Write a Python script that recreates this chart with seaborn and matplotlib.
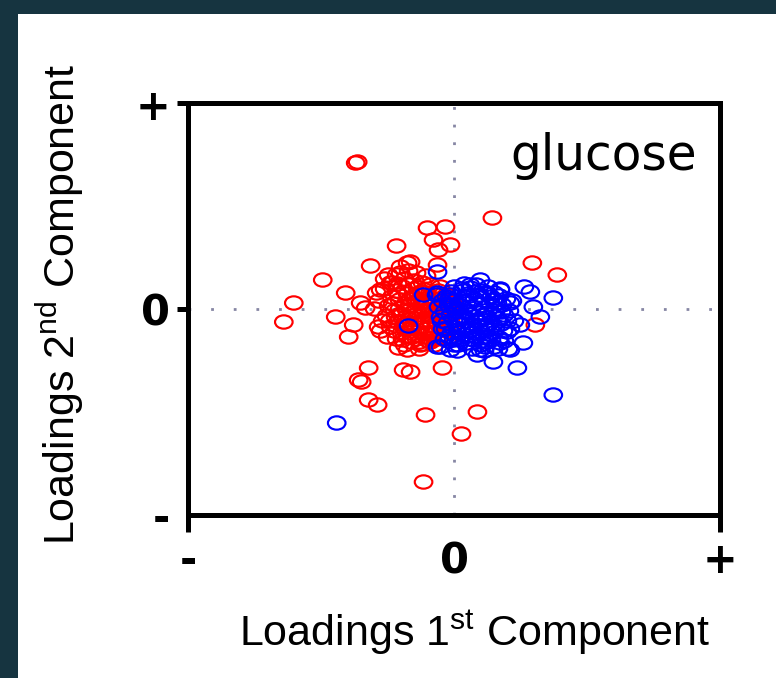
import numpy as np
import pandas as pd
import matplotlib
matplotlib.use("Agg")
import matplotlib.pyplot as plt
import seaborn as sns
from matplotlib.path import Path
from matplotlib.patches import Rectangle

# ---- data: loadings (arbitrary units, axis spans -/+ ) ----
red_outer = [(-97, 147), (-99, 146), (38, 91), (-27, 81), (-9, 82), (-21, 69), (-4, 64),
             (-16, 59), (-58, 63), (-44, 47), (-17, 44), (-47, 46), (-84, 43), (78, 46),
             (103, 34), (-132, 29), (-66, 34), (-54, 36), (-64, 26), (-74, 19), (-161, 6),
             (-171, -13), (-109, 16), (-94, 6), (-89, 1), (-119, -8), (-101, -16),
             (-106, -28), (-76, -18), (-56, -39), (-47, -41), (-34, -36), (-24, -33),
             (-86, -59), (-51, -61), (-44, -63), (-12, -59), (-96, -71), (-93, -73),
             (-86, -91), (-77, -96), (-29, -106), (23, -103), (7, -125), (-31, -173),
             (81, -16)]
red_core = [(-58, 18), (-52, 22), (-47, 15), (-41, 20), (-36, 14), (-30, 19), (-25, 12),
            (-20, 16), (-15, 10), (-55, 9), (-49, 5), (-44, 10), (-38, 6), (-33, 2),
            (-27, 7), (-22, 3), (-17, -1), (-12, 4), (-60, -2), (-54, -5), (-48, -1),
            (-42, -4), (-37, -8), (-31, -3), (-26, -6), (-21, -10), (-16, -5), (-10, -8),
            (-57, -13), (-51, -16), (-45, -11), (-40, -15), (-34, -19), (-29, -13),
            (-23, -17), (-18, -14), (-13, -20), (-53, -24), (-47, -27), (-42, -22),
            (-36, -26), (-30, -24), (-25, -29), (-19, -23), (-44, -33), (-38, -30),
            (-32, -35), (-26, -32), (-63, 12), (-66, 3), (-68, -7), (-64, -18), (-70, 20),
            (-62, 26), (-50, 30), (-40, 28), (-32, 26), (-24, 24), (-14, 22), (-8, 14),
            (-6, 2), (-4, -12), (-8, -22), (-12, -30), (-20, -36), (-35, -40), (-50, -36),
            (-58, -30), (-72, -12), (-76, 8), (-46, 38), (-38, 36), (-28, 33), (-58, 34),
            (-2, 6), (0, -4), (-3, -18), (-39, -1), (-29, -1), (-45, 3), (-35, 9),
            (-24, -1), (-33, -12), (-48, -8), (-55, 0), (-43, -19), (-28, 16), (-19, 6),
            (-15, -28), (-60, -22), (-67, -28), (-74, -22), (-80, 0), (-78, 16), (-70, 30),
            (-54, 42), (-56, 14), (-50, -20), (-45, 24), (-39, -10), (-33, 17), (-27, -20),
            (-22, 10), (-18, -30), (-11, -14), (-9, 0), (-62, 5), (-59, -8), (-52, -31),
            (-43, -28), (-37, 21), (-31, 8), (-25, -12), (-20, -3), (-14, -2), (-7, -30),
            (-65, -12), (-57, 25), (-48, -14), (-41, 12), (-35, -33), (-23, -25),
            (-16, 18), (-10, -18), (-5, 8), (-3, -5)]
blue_outer = [(-17, 37), (26, 29), (16, 24), (33, 16), (46, 19), (76, 17), (99, 11),
              (56, 6), (79, 2), (86, -8), (66, -16), (53, -23), (69, -34), (56, -41),
              (26, -41), (-4, -41), (-17, -38), (-1, -31), (63, -59), (39, -53), (23, -46),
              (-14, -38), (99, -86), (-118, -114), (-46, -17), (-31, 14), (-17, 16),
              (-6, 9), (70, 22)]
blue_core = [(-8, 12), (-3, 17), (3, 12), (9, 18), (15, 13), (21, 17), (27, 11), (33, 15),
             (39, 9), (45, 13), (-6, 4), (0, 8), (6, 3), (12, 7), (18, 2), (24, 6), (30, 1),
             (36, 5), (42, 0), (48, 4), (-10, -3), (-4, -6), (2, -2), (8, -7), (14, -3),
             (20, -8), (26, -4), (32, -9), (38, -5), (44, -10), (50, -6), (-7, -14),
             (-1, -11), (5, -16), (11, -12), (17, -17), (23, -13), (29, -18), (35, -14),
             (41, -19), (47, -15), (-3, -24), (3, -21), (9, -26), (15, -22), (21, -27),
             (27, -23), (33, -28), (39, -24), (45, -29), (5, -31), (12, -34), (19, -31),
             (26, -36), (33, -33), (40, -38), (-12, 8), (-14, -8), (-12, -20), (-10, -30),
             (0, -36), (52, 10), (55, -2), (56, -20), (50, -32), (22, 24), (10, 25),
             (34, 22), (46, 20), (0, 22), (4, 0), (16, -6), (28, -10), (12, -20), (24, -18),
             (36, -20), (6, -10), (20, 10), (30, -28), (-5, -28), (14, 15), (40, 16),
             (58, 8), (60, -12), (18, -40), (30, -42), (-16, 2), (-18, 14), (44, -40),
             (54, -40), (-4, 14), (2, -28), (8, 20), (13, -2), (19, -24), (25, 14),
             (31, -5), (37, -31), (43, 6), (49, -22), (-9, -20), (-2, 4), (4, -36),
             (10, -8), (16, 21), (22, -12), (28, 18), (34, -16), (40, -2), (46, -34),
             (-6, -32), (7, 8), (17, -30), (27, -32), (37, 12), (47, -3), (53, -12),
             (-13, -12), (3, -42), (31, -38)]

x_ticks = [-267, 0, 266]
x_tick_labels = ["-", "0", "+"]
y_ticks = [-206, 0, 206]
y_tick_labels = ["-", "0", "+"]
panel_label = "glucose"
x_label = "Loadings 1$\\mathregular{^{st}}$ Component"
y_label = "Loadings 2$\\mathregular{^{nd}}$ Component"


def to_frame(pairs, group):
    return pd.DataFrame({"pc1": [p[0] for p in pairs],
                         "pc2": [p[1] for p in pairs],
                         "group": group})


red = pd.concat([to_frame(red_outer, "red"), to_frame(red_core, "red")], ignore_index=True)
blue = pd.concat([to_frame(blue_outer, "blue"), to_frame(blue_core, "blue")], ignore_index=True)

sns.set_theme(style="ticks")
plt.rcParams["font.family"] = ["Liberation Sans", "DejaVu Sans"]
plt.rcParams["mathtext.default"] = "regular"

W, H = 776, 678
fig = plt.figure(figsize=(W / 100, H / 100), dpi=100)
fig.patch.set_facecolor("white")

# dark slide frame on the left and top
frame_col = "#163440"
fig.add_artist(Rectangle((0, 0), 18 / W, 1, transform=fig.transFigure,
                         facecolor=frame_col, edgecolor="none", zorder=0))
fig.add_artist(Rectangle((0, 1 - 14 / H), 1, 14 / H, transform=fig.transFigure,
                         facecolor=frame_col, edgecolor="none", zorder=0))

ax = fig.add_axes([188 / W, 1 - 515 / H, (720 - 188) / W, (515 - 103) / H])
ax.set_facecolor("white")

circ = Path.unit_circle()
ellipse = Path(circ.vertices * np.array([1.0, 0.76]), circ.codes)

for df, col in [(red, "#ff0000"), (blue, "#0000ff")]:
    sns.scatterplot(data=df, x="pc1", y="pc2", ax=ax, marker=ellipse, s=160,
                    facecolor="none", edgecolor=col, linewidth=1.55,
                    legend=False, zorder=3)

ax.axvline(0, color="#8686a4", lw=2.0, dashes=(1.0, 5.35), zorder=1)
ax.axhline(0, color="#8686a4", lw=2.0, dashes=(1.0, 7.15), zorder=1)

ax.set_xlim(-267, 266)
ax.set_ylim(-206, 206)
ax.set_xlabel("")
ax.set_ylabel("")

for s in ax.spines.values():
    s.set_visible(True)
    s.set_linewidth(3.6)
    s.set_color("black")

ax.set_xticks(x_ticks, x_tick_labels)
ax.set_yticks(y_ticks, y_tick_labels)
ax.tick_params(axis="x", bottom=True, direction="out", length=12, width=3.6,
               pad=6, color="black", labelcolor="black")
ax.tick_params(axis="y", left=True, direction="out", length=8, width=3.6,
               pad=5, color="black", labelcolor="black")
ax.xaxis.get_major_ticks()[1].tick1line.set_visible(False)
ax.yaxis.get_major_ticks()[0].tick1line.set_visible(False)
for lab in ax.get_xticklabels() + ax.get_yticklabels():
    lab.set_fontfamily("DejaVu Sans")
    lab.set_fontweight("bold")
    lab.set_fontsize(30)

ax.text(149, 139, panel_label, ha="center", va="baseline", fontsize=35,
        family="DejaVu Sans", color="black", zorder=4)

fig.text(475 / W, 1 - 633 / H, x_label, ha="center", va="center",
         fontsize=31, color="black")
fig.text(60 / W, 1 - 304 / H, y_label, ha="center", va="center",
         rotation=90, fontsize=31, color="black")

fig.savefig("out.png", dpi=100, facecolor="white")
